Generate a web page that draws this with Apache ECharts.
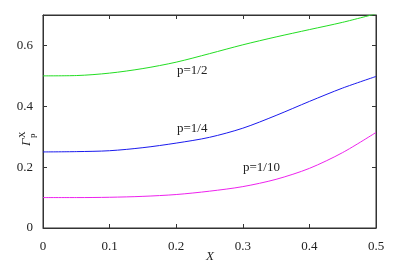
<!DOCTYPE html>
<html><head><meta charset="utf-8">
<script src="https://cdn.jsdelivr.net/npm/echarts@6/dist/echarts.min.js"></script>
<style>html,body{margin:0;padding:0;background:#fff}#c{width:395px;height:265px}</style>
</head><body><div id="c"></div>
<script>
var xs = [0, 0.05, 0.1, 0.15, 0.2, 0.25, 0.3, 0.35, 0.4, 0.45, 0.5];
var half = [0.5, 0.501, 0.509, 0.524, 0.545, 0.573, 0.602, 0.628, 0.652, 0.676, 0.704];
var quarter = [0.25, 0.251, 0.254, 0.264, 0.279, 0.298, 0.328, 0.370, 0.416, 0.460, 0.498];
var tenth = [0.1, 0.1, 0.101, 0.104, 0.11, 0.121, 0.136, 0.160, 0.196, 0.248, 0.314];
var seriesNames = ['p=1/2', 'p=1/4', 'p=1/10'];
var xTicks = ['0', '0.1', '0.2', '0.3', '0.4', '0.5'];
var yTicks = ['0', '0.2', '0.4', '0.6'];

var FONT = 'Liberation Serif';
function pairs(v){ return xs.map(function(x,i){ return [x, v[i]]; }); }
var chart = echarts.init(document.getElementById('c'), null, {renderer:'canvas'});
var axisLine = {show:true, onZero:false, lineStyle:{color:'#333', width:1}};
var tick = {show:true, inside:true, length:4, lineStyle:{color:'#333'}};
chart.setOption({
  animation:false,
  backgroundColor:'#fff',
  grid:{left:43, right:19, top:15, bottom:37, containLabel:false, show:true, borderColor:'#333', borderWidth:1},
  xAxis:[
    {type:'value', min:0, max:0.5, interval:0.1, position:'bottom',
     axisLine:axisLine, axisTick:tick, splitLine:{show:false},
     axisLabel:{color:'#222', fontFamily:FONT, fontSize:13, margin:12,
       formatter:function(v){ var i=Math.round(v*10); return xTicks[i]; }}},
    {type:'value', min:0, max:0.5, interval:0.1, position:'top',
     axisLine:axisLine, axisTick:tick, splitLine:{show:false}, axisLabel:{show:false}}
  ],
  yAxis:[
    {type:'value', min:0, max:0.7, interval:0.2, position:'left',
     axisLine:axisLine, axisTick:tick, splitLine:{show:false},
     axisLabel:{color:'#222', fontFamily:FONT, fontSize:13, margin:10, showMaxLabel:false,
       formatter:function(v){ var i=Math.round(v*5); return yTicks[i]!==undefined && Math.abs(v-i*0.2)<1e-6 ? yTicks[i] : ''; }}},
    {type:'value', min:0, max:0.7, interval:0.2, position:'right',
     axisLine:axisLine, axisTick:tick, splitLine:{show:false}, axisLabel:{show:false}}
  ],
  series:[
    {name:seriesNames[0], type:'line', xAxisIndex:0, yAxisIndex:0, smooth:0.3, showSymbol:false, clip:true, data:pairs(half), lineStyle:{color:'#22dd22', width:1}},
    {name:seriesNames[1], type:'line', xAxisIndex:1, yAxisIndex:1, smooth:0.3, showSymbol:false, clip:true, data:pairs(quarter), lineStyle:{color:'#1a1aee', width:1}},
    {name:seriesNames[2], type:'line', xAxisIndex:0, yAxisIndex:0, smooth:0.3, showSymbol:false, clip:true, data:pairs(tenth), lineStyle:{color:'#ee22ee', width:1}}
  ],
  graphic:[
    {type:'text', left:177, top:64, style:{text:seriesNames[0], font:'13px '+FONT, fill:'#222'}},
    {type:'text', left:177, top:122, style:{text:seriesNames[1], font:'13px '+FONT, fill:'#222'}},
    {type:'text', left:243, top:161, style:{text:seriesNames[2], font:'13px '+FONT, fill:'#222'}},
    {type:'text', left:206, top:250, style:{text:'X', font:'italic 13px '+FONT, fill:'#222'}},
    {type:'group', x:27, y:138, rotation:Math.PI/2, children:[
      {type:'text', x:-8, y:-7, style:{text:'Γ', font:'italic 13px '+FONT, fill:'#222'}},
      {type:'text', x:0, y:-9, style:{text:'X', font:'9px '+FONT, fill:'#222'}},
      {type:'text', x:0, y:1, style:{text:'p', font:'9px '+FONT, fill:'#222'}}
    ]}
  ]
});
</script></body></html>
